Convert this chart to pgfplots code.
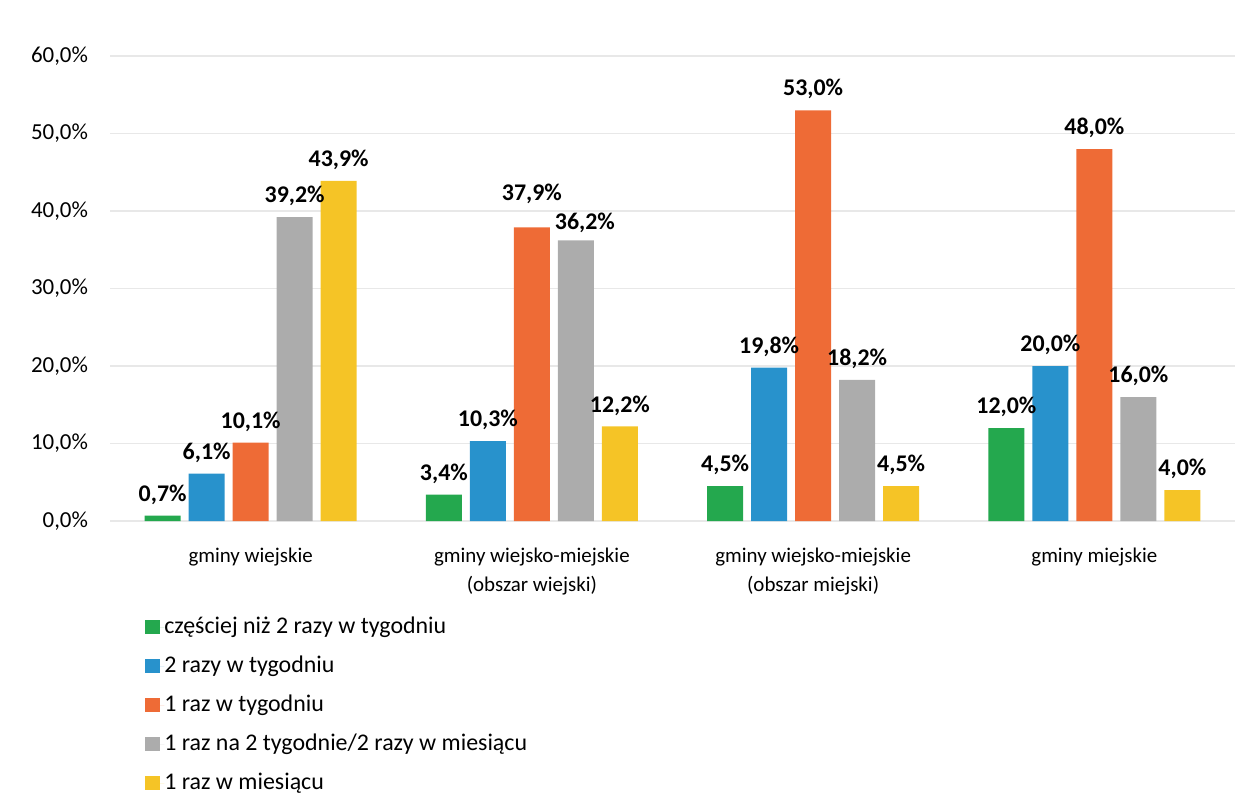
\documentclass[border=0pt]{standalone}
\usepackage{pgfplots}
\pgfplotsset{compat=1.18}
\usepackage{fontspec}
\setmainfont{Carlito}
\definecolor{cgreen}{RGB}{36,168,78}
\definecolor{cblue}{RGB}{40,146,204}
\definecolor{corange}{RGB}{238,107,54}
\definecolor{cgray}{RGB}{172,172,172}
\definecolor{cyellow}{RGB}{245,196,38}
\definecolor{cgrid}{RGB}{232,232,232}
\pgfplotstableread{
x y dx dy
0 0.7 0 0
1 3.4 0 0
2 4.5 0 0
3 12.0 0 0
}\green
\pgfplotstableread{
x y dx dy
0 6.1 0 0
1 10.3 0 0
2 19.8 0 0
3 20.0 0 0
}\blue
\pgfplotstableread{
x y dx dy
0 10.1 0 0
1 37.9 0 6.5
2 53.0 0 0
3 48.0 0 0
}\orange
\pgfplotstableread{
x y dx dy
0 39.2 0 0
1 36.2 4.5 -1.5
2 18.2 0 0
3 16.0 0 0
}\gray
\pgfplotstableread{
x y dx dy
0 43.9 0 0
1 12.2 0 0
2 4.5 0 0
3 4.0 0 0
}\yellow
\begin{document}
\begin{tikzpicture}[x=1bp,y=1bp]
\useasboundingbox (0,0) rectangle (620,400.5);
\begin{axis}[
  at={(55bp,140bp)}, anchor=south west,
  scale only axis,
  width=562.5bp, height=232.5bp,
  ymin=0, ymax=60, ytick={0,10,...,60},
  xmin=-0.5, xmax=3.5,
  xtick={0,1,2,3},
  xticklabels={gminy wiejskie, gminy wiejsko-miejskie\\(obszar wiejski), gminy wiejsko-miejskie\\(obszar miejski), gminy miejskie},
  xticklabel style={align=center, font=\fontsize{10.5}{14.5}\selectfont, yshift=-10bp},
  yticklabel={\pgfmathprintnumber[fixed,fixed zerofill,precision=1,use comma,assume math mode=true]{\tick}\%},
  yticklabel style={font=\fontsize{11.5}{13}\selectfont, xshift=-7.5bp},
  major tick length=0pt,
  ymajorgrids, grid style={cgrid, line width=0.8pt},
  axis line style={draw=none},
  axis x line*=bottom, axis y line*=left,
  ybar=4bp, bar width=18bp,
  every axis plot/.append style={draw=none},
  visualization depends on={\thisrow{dx}\as\dx},
  visualization depends on={\thisrow{dy}\as\dy},
  nodes near coords={\pgfmathprintnumber[fixed,fixed zerofill,precision=1,use comma,assume math mode=true]{\pgfplotspointmeta}\%},
  every node near coord/.append style={font=\bfseries\fontsize{12}{13}\selectfont, text=black, yshift=2bp+\dy bp, xshift=\dx bp},
  legend style={at={(0.031,-0.205)}, anchor=north west, draw=none, fill=none,
     font=\fontsize{12}{13}\selectfont, row sep=8.5bp, inner sep=0pt,
     nodes={inner sep=0pt, text height=8.5bp, text depth=2.5bp},
     cells={anchor=west}},
  legend cell align=left,
  legend image code/.code={\fill[#1] (0bp,-3.2bp) rectangle (7.5bp,4bp); \path (0bp,0bp) -- (9.5bp,0bp);},
  clip=false,
]
\addplot[fill=cgreen] table[x=x,y=y] {\green};
\addplot[fill=cblue] table[x=x,y=y] {\blue};
\addplot[fill=corange] table[x=x,y=y] {\orange};
\addplot[fill=cgray] table[x=x,y=y] {\gray};
\addplot[fill=cyellow] table[x=x,y=y] {\yellow};
\legend{częściej niż 2 razy w tygodniu, 2 razy w tygodniu, 1 raz w tygodniu, 1 raz na 2 tygodnie/2 razy w miesiącu, 1 raz w miesiącu}
\end{axis}
\end{tikzpicture}
\end{document}
